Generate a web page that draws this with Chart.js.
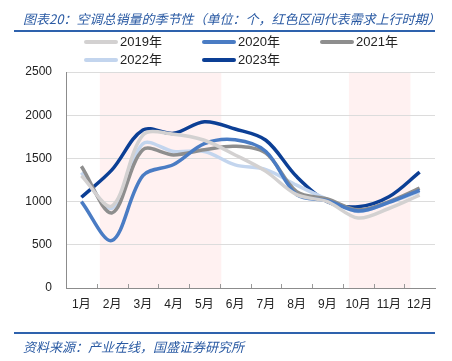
<!DOCTYPE html>
<html>
<head>
<meta charset="utf-8">
<script src="https://cdn.jsdelivr.net/npm/chart.js@4/dist/chart.umd.min.js"></script>
<style>
  body { margin: 0; background: #fff; }
  #wrap { position: relative; width: 452px; height: 361px; overflow: hidden; font-family: "Liberation Sans", "Noto Sans CJK SC", sans-serif; }
  #chart { position: absolute; left: 0; top: 0; }
  .cap { position: absolute; left: 23px; font-family: "Noto Sans CJK SC", sans-serif; font-style: italic; font-size: 13px; color: #2a5aa3; white-space: nowrap; }
  .rule { position: absolute; left: 14px; width: 421px; height: 2px; background: #2e62ad; }
  .leg { position: absolute; height: 16px; font-size: 13px; color: #222; white-space: nowrap; }
  .leg i { position: absolute; left: 0; top: 6px; width: 34px; height: 4px; border-radius: 2px; }
  .leg span { position: absolute; left: 36px; top: 0; line-height: 16px; }
</style>
</head>
<body>
<div id="wrap">
  <canvas id="chart" width="452" height="361"></canvas>
  <div class="cap" style="top:9px">图表20：空调总销量的季节性（单位：个，红色区间代表需求上行时期）</div>
  <div class="rule" style="top:30px"></div>
  <div id="legend"></div>
  <div class="rule" style="top:332px"></div>
  <div class="cap" style="top:337px">资料来源：产业在线，国盛证券研究所</div>
</div>
<script>
// 月份
var months = ['1月', '2月', '3月', '4月', '5月', '6月', '7月', '8月', '9月', '10月', '11月', '12月'];

// 各年空调总销量
var sales2019 = [1300, 950, 1770, 1780, 1710, 1540, 1350, 1080, 1000, 810, 920, 1075];
var sales2020 = [1000, 550, 1300, 1430, 1670, 1715, 1580, 1080, 1010, 890, 990, 1130];
var sales2021 = [1410, 870, 1600, 1540, 1600, 1640, 1560, 1115, 1030, 905, 1000, 1155];
var sales2022 = [1335, 925, 1670, 1580, 1580, 1425, 1370, 1190, 1025, 885, 990, 1115];
var sales2023 = [1050, 1370, 1830, 1790, 1925, 1840, 1710, 1290, 1000, 940, 1055, 1340];

var seriesNames = ['2019年', '2020年', '2021年', '2022年', '2023年'];
var seriesData = [sales2019, sales2020, sales2021, sales2022, sales2023];
var seriesColors = ['#d3d1d1', '#4a7cc4', '#8e8e8e', '#c3d5ee', '#0c3f95'];

// 需求上行区间（按月份下标）
var upPeriods = [[0.6, 4.55], [8.7, 10.7]];

var datasets = [];
for (var i = 0; i < seriesNames.length; i++) {
  datasets.push({
    label: seriesNames[i],
    data: seriesData[i],
    borderColor: seriesColors[i],
    backgroundColor: seriesColors[i],
    borderWidth: 3.5,
    pointRadius: 0,
    tension: 0.33,
    fill: false
  });
}

// 图例（三列网格）
var legendPos = [[84, 34], [202, 34], [320, 34], [84, 52], [202, 52]];
var legendBox = document.getElementById('legend');
for (var k = 0; k < seriesNames.length; k++) {
  var item = document.createElement('div');
  item.className = 'leg';
  item.style.left = legendPos[k][0] + 'px';
  item.style.top = legendPos[k][1] + 'px';
  item.innerHTML = '<i style="background:' + seriesColors[k] + '"></i><span>' + seriesNames[k] + '</span>';
  legendBox.appendChild(item);
}

var shadePlugin = {
  id: 'shade',
  beforeDraw: function (chart) {
    var ctx = chart.ctx;
    var area = chart.chartArea;
    var x = chart.scales.x;
    ctx.save();
    ctx.fillStyle = '#fff1f1';
    upPeriods.forEach(function (p) {
      var x0 = x.getPixelForValue(p[0]);
      var x1 = x.getPixelForValue(p[1]);
      ctx.fillRect(x0, area.top, x1 - x0, area.bottom - area.top);
    });
    ctx.restore();
  },
  afterDatasetsDraw: function (chart) {
    // x 轴内侧小刻度
    var ctx = chart.ctx;
    var area = chart.chartArea;
    var x = chart.scales.x;
    ctx.save();
    ctx.strokeStyle = '#999';
    ctx.lineWidth = 1;
    for (var m = 1; m < months.length; m++) {
      var px = Math.round(x.getPixelForValue(m - 0.5)) + 0.5;
      ctx.beginPath();
      ctx.moveTo(px, area.bottom);
      ctx.lineTo(px, area.bottom - 4);
      ctx.stroke();
    }
    ctx.restore();
  }
};

new Chart(document.getElementById('chart').getContext('2d'), {
  type: 'line',
  data: { labels: months, datasets: datasets },
  options: {
    responsive: false,
    animation: false,
    layout: { padding: { top: 72, right: 17, bottom: 43, left: 0 } },
    plugins: { legend: { display: false }, tooltip: { enabled: false } },
    scales: {
      x: {
        offset: true,
        grid: { display: false, drawTicks: false },
        border: { color: '#8c8c8c', width: 1 },
        ticks: { color: '#222', font: { size: 12, family: 'Liberation Sans, Noto Sans CJK SC' }, padding: 9, maxRotation: 0 },
        afterFit: function (s) { s.height = 30; }
      },
      y: {
        min: 0,
        max: 2500,
        grid: { color: '#dcdcdc', drawTicks: false },
        border: { color: '#8c8c8c', width: 1 },
        ticks: {
          stepSize: 500, color: '#222', font: { size: 12, family: 'Liberation Sans' }, padding: 14,
          callback: function (v) { return String(v); }
        },
        afterFit: function (s) { s.width = 66; }
      }
    }
  },
  plugins: [shadePlugin]
});
</script>
</body>
</html>
